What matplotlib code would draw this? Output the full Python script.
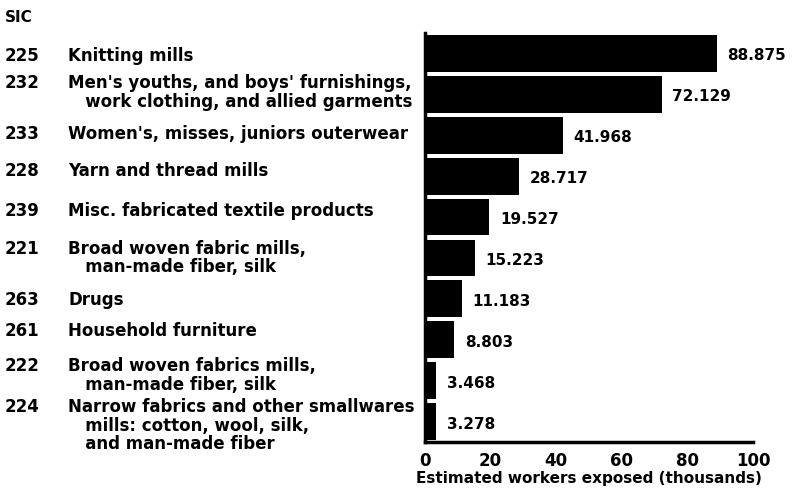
import matplotlib
matplotlib.use("Agg")
import matplotlib.pyplot as plt
from matplotlib import transforms

#Data (top to bottom)
sic_codes = ["225", "232", "233", "228", "239", "221", "263", "261", "222", "224"]
industries = [
    "Knitting mills",
    "Men's youths, and boys' furnishings,\n   work clothing, and allied garments",
    "Women's, misses, juniors outerwear",
    "Yarn and thread mills",
    "Misc. fabricated textile products",
    "Broad woven fabric mills,\n   man-made fiber, silk",
    "Drugs",
    "Household furniture",
    "Broad woven fabrics mills,\n   man-made fiber, silk",
    "Narrow fabrics and other smallwares\n   mills: cotton, wool, silk,\n   and man-made fiber",
]
workers = [88.875, 72.129, 41.968, 28.717, 19.527, 15.223, 11.183, 8.803, 3.468, 3.278]
value_labels = ["88.875", "72.129", "41.968", "28.717", "19.527", "15.223", "11.183", "8.803", "3.468", "3.278"]
x_ticks = [0, 20, 40, 60, 80, 100]

#Small vertical nudges of the row labels (in bar slots), the original isn't quite aligned
label_nudge = [0.07, -0.05, -0.02, -0.12, -0.15, 0.0, 0.02, -0.22, -0.13, 0.1]

plt.rcParams['font.family'] = ['DejaVu Sans']
plt.rcParams['font.weight'] = 'bold'

fig = plt.figure(figsize=(8.03, 4.92), dpi=100)
ax = fig.add_axes([425 / 803, 1 - 442 / 492, (753 - 425) / 803, (442 - 33) / 492])

ypos = list(range(len(workers)))
ax.barh(ypos, workers, height=0.9, color="black")
ax.set_ylim(len(workers) - 0.5, -0.5)
ax.set_xlim(0, 100)

#Value labels just right of each bar
for y, w, lab in zip(ypos, workers, value_labels):
    ax.text(w + 3.3, y + 0.06, lab, va="center", ha="left", fontsize=11, fontweight="bold")

#Row labels live in the left margin: x in figure coords, y in data coords
trans = transforms.blended_transform_factory(fig.transFigure, ax.transData)
for y, code, name, dy in zip(ypos, sic_codes, industries, label_nudge):
    nlines = name.count("\n")
    #pad the code with empty lines so it sits on the first line of the name
    fig.text(5 / 803, y + dy, code + "\n" * nlines, transform=trans, va="center", ha="left",
             fontsize=12, fontweight="bold", linespacing=1.05)
    fig.text(68 / 803, y + dy, name, transform=trans, va="center", ha="left", fontsize=12,
             fontweight="bold", linespacing=1.05)

fig.text(5 / 803, 1 - 17 / 492, "SIC", va="center", ha="left", fontsize=11, fontweight="bold")

#Axes styling
ax.spines["top"].set_visible(False)
ax.spines["right"].set_visible(False)
ax.spines["left"].set_linewidth(2.5)
ax.spines["bottom"].set_linewidth(2.5)
ax.set_yticks([])
ax.set_xticks(x_ticks)
ax.set_xticklabels([str(t) for t in x_ticks], fontsize=12, fontweight="bold")
ax.tick_params(axis="x", length=0, pad=7)
ax.set_xlabel("Estimated workers exposed (thousands)", fontsize=11, fontweight="bold", labelpad=1)

fig.savefig("out.png", dpi=100)
